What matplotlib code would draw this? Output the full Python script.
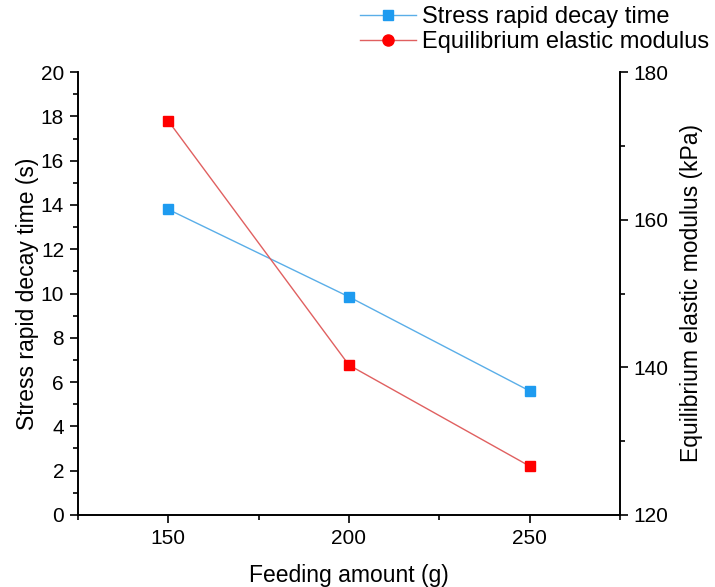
import matplotlib
matplotlib.use("Agg")
import matplotlib.pyplot as plt
from matplotlib.lines import Line2D
from matplotlib.ticker import MultipleLocator

plt.rcParams["font.family"] = ["Liberation Sans", "DejaVu Sans"]

# data
feeding = [150, 200, 250]
decay_time = [13.8, 9.85, 5.6]
elastic_modulus = [173.4, 140.3, 126.6]

BLUE_LINE = "#5aaee8"
BLUE_MARK = "#1e9bf0"
RED_LINE = "#e06060"
RED_MARK = "#ff0000"

fig = plt.figure(figsize=(7.15, 5.87), dpi=100)
ax1 = fig.add_axes([0.109, 0.123, 0.758, 0.754])
ax2 = ax1.twinx()

ax1.plot(feeding, decay_time, color=BLUE_LINE, lw=1.0, marker="s", ms=7,
         mfc=BLUE_MARK, mec=BLUE_MARK, zorder=3)
ax2.plot(feeding, elastic_modulus, color=RED_LINE, lw=1.0, marker="s", ms=7,
         mfc=RED_MARK, mec=RED_MARK, zorder=3)

ax1.set_xlim(125, 275)
ax1.set_ylim(0, 20)
ax2.set_ylim(120, 180)
ax1.xaxis.set_major_locator(MultipleLocator(50))
ax1.xaxis.set_minor_locator(MultipleLocator(25))
ax1.yaxis.set_major_locator(MultipleLocator(2))
ax1.yaxis.set_minor_locator(MultipleLocator(1))
ax2.yaxis.set_major_locator(MultipleLocator(20))
ax2.yaxis.set_minor_locator(MultipleLocator(10))

for ax in (ax1, ax2):
    ax.tick_params(which="major", length=6, width=1.2, labelsize=15, pad=4)
    ax.tick_params(which="minor", length=3.5, width=1.2)
    for s in ax.spines.values():
        s.set_linewidth(1.2)
ax1.spines["top"].set_visible(False)
ax2.spines["top"].set_visible(False)

ax1.set_xlabel("Feeding amount (g)", fontsize=16.5, labelpad=12)
ax1.set_ylabel("Stress rapid decay time (s)", fontsize=16.5, labelpad=1)
ax2.set_ylabel("Equilibrium elastic modulus (kPa)", fontsize=16.5, labelpad=8)

handles = [
    Line2D([], [], color=BLUE_LINE, lw=1.0, marker="s", ms=7, mfc=BLUE_MARK, mec=BLUE_MARK),
    Line2D([], [], color=RED_LINE, lw=1.0, marker="o", ms=8, mfc=RED_MARK, mec=RED_MARK),
]
fig.legend(handles, ["Stress rapid decay time", "Equilibrium elastic modulus"],
           loc="upper left", bbox_to_anchor=(0.495, 1.0), frameon=False,
           fontsize=17, handlelength=2.4, handletextpad=0.25, labelspacing=0.15,
           borderaxespad=0, borderpad=0.25)

fig.savefig("out.png", dpi=100)
